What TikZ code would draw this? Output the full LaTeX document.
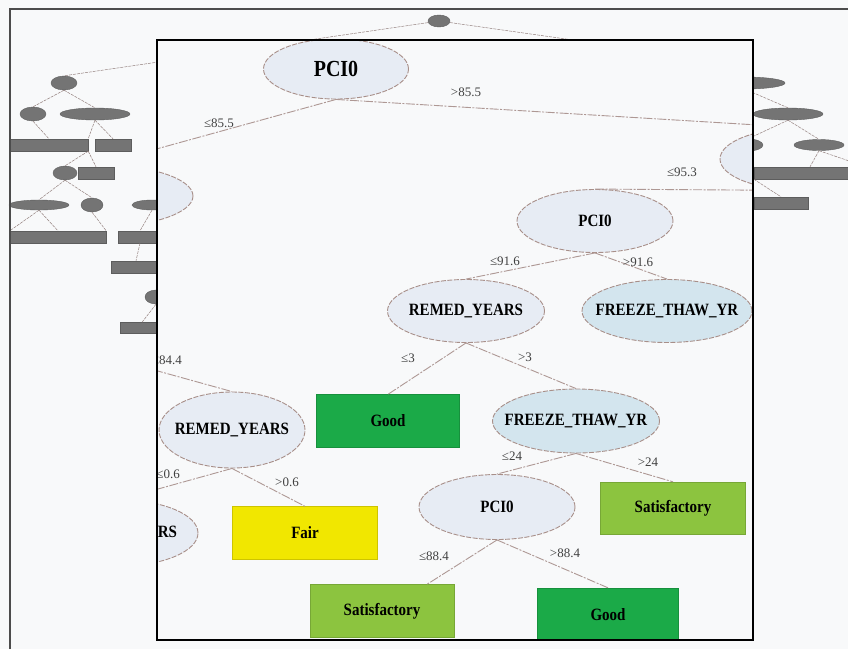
\documentclass[tikz,border=0pt]{standalone}
\usepackage{fontspec}
\setmainfont{Liberation Serif}
\usetikzlibrary{shapes.geometric}
\definecolor{bg}{HTML}{F8F9FA}
\definecolor{ellfill}{HTML}{E7ECF4}
\definecolor{ellblue}{HTML}{D3E5EE}
\definecolor{ellline}{HTML}{A88F89}
\definecolor{edgecol}{HTML}{AE9894}
\definecolor{goodg}{HTML}{1BAA48}
\definecolor{satg}{HTML}{8CC43F}
\definecolor{fairy}{HTML}{F1E700}
\definecolor{gnode}{HTML}{747474}
\newcommand\fixw[1]{\makebox[0pt]{\scalebox{1}[1.15]{#1}}}
\newcommand\tallt[1]{\scalebox{1}[1.15]{#1}}
\begin{document}
\begin{tikzpicture}[x=1pt,y=-1pt,
  splitnode/.style={ellipse,draw=ellline,fill=ellfill,line width=0.9pt,dash pattern=on 5pt off 1.5pt,inner sep=0pt,font=\fontsize{15}{15}\selectfont\bfseries},
  bluenode/.style={splitnode,fill=ellblue},
  leaf/.style={rectangle,inner sep=0pt,font=\fontsize{15}{15}\selectfont\bfseries,draw=#1!85!black,line width=0.4pt,fill=#1},
  branch/.style={draw=edgecol,line width=0.9pt,dash pattern=on 9pt off 1.5pt on 2pt off 1.5pt},
  elabel/.style={font=\fontsize{13}{13}\selectfont,text=black!75,inner sep=0pt},
  gell/.style={ellipse,fill=gnode,draw=gnode!80!black,line width=0.4pt,inner sep=0pt},
  gbox/.style={rectangle,fill=gnode,draw=gnode!80!black,line width=0.4pt,inner sep=0pt},
  gedge/.style={draw=edgecol!85!black,line width=0.5pt,dash pattern=on 3pt off 1pt},
]
\fill[bg] (0,0) rectangle (848,649);
\useasboundingbox (0,0) rectangle (848,649);

% ---------- background (small) tree ----------
\node[gell,minimum width=22pt,minimum height=12pt] (g0) at (439,21) {};
\node[gell,minimum width=26pt,minimum height=14pt] (gL1) at (64,83) {};
\node[gell,minimum width=26pt,minimum height=14pt] (gL2) at (33,114) {};
\node[gell,minimum width=70pt,minimum height=12pt] (gL3) at (95,114) {};
\node[gbox,minimum width=78pt,minimum height=12pt] (gL4) at (49,145) {};
\node[gbox,minimum width=36pt,minimum height=12pt] (gL5) at (113,145) {};
\node[gell,minimum width=24pt,minimum height=14pt] (gL6) at (65,173) {};
\node[gbox,minimum width=36pt,minimum height=12pt] (gL7) at (96,173) {};
\node[gell,minimum width=60pt,minimum height=10pt] (gL8) at (39,205) {};
\node[gell,minimum width=22pt,minimum height=14pt] (gL9) at (92,205) {};
\node[gell,minimum width=40pt,minimum height=10pt] (gL10) at (152,205) {};
\node[gbox,minimum width=96pt,minimum height=12pt] (gL11) at (58,237) {};
\node[gbox,minimum width=44pt,minimum height=12pt] (gL12) at (140,237) {};
\node[gbox,minimum width=50pt,minimum height=12pt] (gL13) at (136,267) {};
\node[gell,minimum width=22pt,minimum height=14pt] (gL14) at (156,297) {};
\node[gbox,minimum width=44pt,minimum height=11pt] (gL15) at (142,328) {};
\coordinate (gR0) at (700,58);
\node[gell,minimum width=80pt,minimum height=12pt] (gR1) at (745,83) {};
\node[gell,minimum width=70pt,minimum height=12pt] (gR2) at (788,114) {};
\node[gell,minimum width=30pt,minimum height=12pt] (gR3) at (748,145) {};
\node[gell,minimum width=50pt,minimum height=11pt] (gR4) at (819,145) {};
\node[gbox,minimum width=112pt,minimum height=12pt] (gR5) at (810,173) {};
\node[gbox,minimum width=54pt,minimum height=12pt] (gR6) at (781,203) {};
\draw[gedge] (g0) -- (gL1.north);
\draw[gedge] (g0) -- (gR0);
\draw[gedge] (gL1.south) -- (gL2.north);
\draw[gedge] (gL1.south) -- (gL3.north);
\draw[gedge] (gL2.south) -- (gL4.north);
\draw[gedge] (gL3.south) -- (gL4.north east);
\draw[gedge] (gL3.south) -- (gL5.north);
\draw[gedge] (gL4.south east) -- (gL6.north);
\draw[gedge] (gL4.south east) -- (gL7.north);
\draw[gedge] (gL6.south) -- (gL8.north);
\draw[gedge] (gL6.south) -- (gL9.north);
\draw[gedge] (gL8.south) -- (gL11.north west);
\draw[gedge] (gL8.south) -- (gL11.north);
\draw[gedge] (gL9.south) -- (gL11.north east);
\draw[gedge] (gL10.south) -- (gL12.north);
\draw[gedge] (gL12.south) -- (gL13.north);
\draw[gedge] (gL14.south) -- (gL15.north);
\draw[gedge] (gR1.south) -- (gR2.north);
\draw[gedge] (gR2.south) -- (gR3.north);
\draw[gedge] (gR2.south) -- (gR4.north);
\draw[gedge] (gR3.south) -- (gR5.north west);
\draw[gedge] (gR4.south) -- (gR5.north);
\draw[gedge] (gR4.south) -- (gR5.north east);
\draw[gedge] (gR5.south west) -- (gR6.north);

% outer frame
\draw[line width=2pt,black!70] (10,649) -- (10,9) -- (848,9);

% ---------- inset (zoomed tree) ----------
\begin{scope}
\clip (157,40) rectangle (753,640);
\fill[bg] (157,40) rectangle (753,640);

\node[splitnode,minimum width=145pt,minimum height=60pt,font=\fontsize{20}{20}\selectfont\bfseries] (n1) at (336,69) {\fixw{PCI0}};
\node[splitnode,minimum width=186pt,minimum height=62pt] (n2) at (100,196) {};
\node[splitnode,minimum width=160pt,minimum height=62pt] (n3) at (800,159) {};
\node[splitnode,minimum width=156pt,minimum height=63pt] (n4) at (595,221) {\fixw{PCI0}};
\node[splitnode,minimum width=157pt,minimum height=63pt] (n5) at (466,311) {\fixw{REMED\_YEARS}};
\node[bluenode,minimum width=170pt,minimum height=63pt] (n6) at (667,311) {\fixw{FREEZE\_THAW\_YR}};
\node[leaf=goodg,minimum width=143pt,minimum height=53pt] (n7) at (388,421) {\tallt{Good}};
\node[bluenode,minimum width=167pt,minimum height=64pt] (n8) at (576,421) {\fixw{FREEZE\_THAW\_YR}};
\node[splitnode,minimum width=156pt,minimum height=65pt] (n9) at (497,507) {\fixw{PCI0}};
\node[leaf=satg,minimum width=145pt,minimum height=52pt] (n10) at (673,508) {\tallt{Satisfactory}};
\node[leaf=satg,minimum width=144pt,minimum height=53pt] (n11) at (382,611) {\tallt{Satisfactory}};
\node[leaf=goodg,minimum width=141pt,minimum height=54pt] (n12) at (608,615) {\tallt{Good}};
\node[splitnode,minimum width=146pt,minimum height=76pt] (n13) at (232,430) {\fixw{REMED\_YEARS}};
\node[leaf=fairy,minimum width=145pt,minimum height=53pt] (n14) at (305,533) {\tallt{Fair}};
\node[splitnode,minimum width=156pt,minimum height=66pt] (n15) at (120,533) {\fixw{REMED\_YEARS}};
\coordinate (c84) at (100,355);

\draw[branch] (n1.south) -- (n2.north);
\draw[branch] (n1.south) -- (n3.north);
\draw[branch] (n3.south) -- (n4.north);
\draw[branch] (n4.south) -- (n5.north);
\draw[branch] (n4.south) -- (n6.north);
\draw[branch] (n5.south) -- (n7.north);
\draw[branch] (n5.south) -- (n8.north);
\draw[branch] (n8.south) -- (n9.north);
\draw[branch] (n8.south) -- (n10.north);
\draw[branch] (n9.south) -- ([xshift=45pt]n11.north);
\draw[branch] (n9.south) -- (n12.north);
\draw[branch] (c84) -- (n13.north);
\draw[branch] (n13.south) -- (n15.north);
\draw[branch] (n13.south) -- (n14.north);

\node[elabel] (l1) at (219,123) {≤85.5};
\node[elabel] (l2) at (466,92) {>85.5};
\node[elabel] (l3) at (682,172) {≤95.3};
\node[elabel] (l4) at (505,261) {≤91.6};
\node[elabel] (l5) at (638,262) {>91.6};
\node[elabel] (l6) at (408,358) {≤3};
\node[elabel] (l7) at (525,357) {>3};
\node[elabel] (l8) at (512,456) {≤24};
\node[elabel] (l9) at (648,462) {>24};
\node[elabel] (l10) at (434,556) {≤88.4};
\node[elabel] (l11) at (565,553) {>88.4};
\node[elabel,anchor=east] (l12) at (182,360) {≤84.4};
\node[elabel,anchor=east] (l13) at (180,474) {≤0.6};
\node[elabel] (l14) at (287,482) {>0.6};
\end{scope}
\draw[line width=2.4pt,black] (157,40) rectangle (753,640);
\end{tikzpicture}
\end{document}
